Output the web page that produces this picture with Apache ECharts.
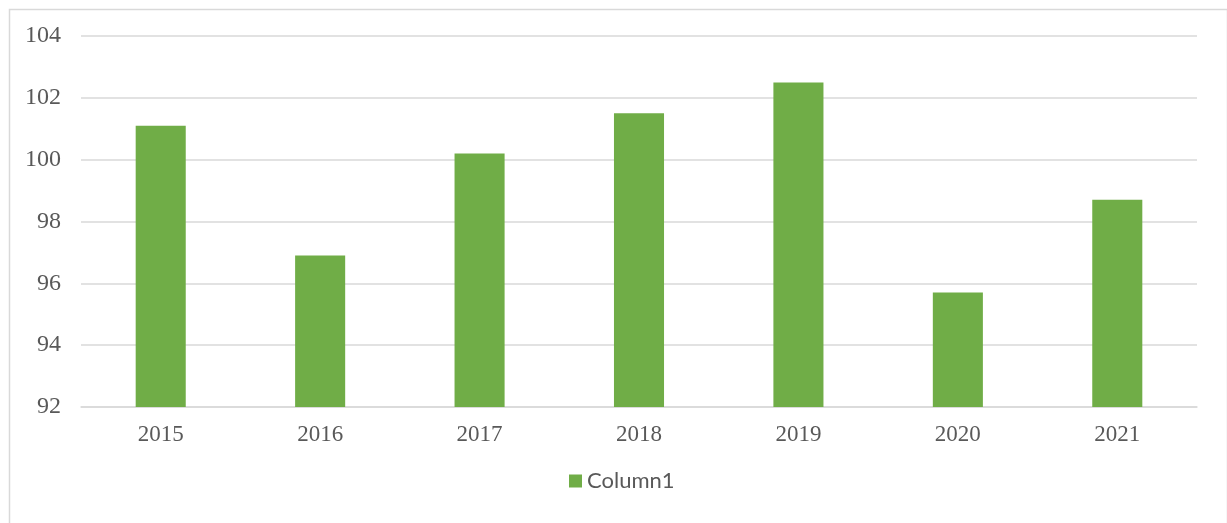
<!DOCTYPE html>
<html>
<head>
<meta charset="utf-8">
<script src="https://cdn.jsdelivr.net/npm/echarts@6/dist/echarts.min.js"></script>
<style>
  html, body { margin: 0; padding: 0; background: #ffffff; }
  #chart { width: 1227px; height: 523px; }
</style>
</head>
<body>
<div id="chart"></div>
<script>
// Yearly values shown as columns
const years = ['2015', '2016', '2017', '2018', '2019', '2020', '2021'];
const column1 = [101.1, 96.9, 100.2, 101.5, 102.5, 95.7, 98.7];
const seriesName = 'Column1';

const axisTextColor = '#595959';
const gridColor = '#d9d9d9';
const barColor = '#70ad47';

const chart = echarts.init(document.getElementById('chart'), null, { renderer: 'canvas' });

chart.setOption({
  animation: false,
  backgroundColor: '#ffffff',
  graphic: [{
    type: 'rect',
    left: 7,
    top: 7,
    shape: { width: 1218, height: 530 },
    style: { fill: 'none', stroke: gridColor, lineWidth: 1.5 },
    silent: true
  }],
  grid: { left: 81, right: 30, top: 36, bottom: 116 },
  legend: {
    data: [seriesName],
    bottom: 26,
    left: 564,
    icon: 'rect',
    itemWidth: 13,
    itemHeight: 13,
    itemGap: 6,
    textStyle: { fontFamily: 'Lato', fontSize: 22, color: axisTextColor, padding: [0, 0, 0, 0] }
  },
  xAxis: {
    type: 'category',
    data: years,
    axisLine: { show: true, lineStyle: { color: gridColor, width: 1.5 } },
    axisTick: { show: false },
    axisLabel: {
      margin: 16,
      fontFamily: 'Liberation Serif',
      fontSize: 23,
      color: axisTextColor
    }
  },
  yAxis: {
    type: 'value',
    min: 92,
    max: 104,
    interval: 2,
    axisLine: { show: false },
    axisTick: { show: false },
    splitLine: { lineStyle: { color: gridColor, width: 1.5 } },
    axisLabel: {
      margin: 20,
      fontFamily: 'Liberation Serif',
      fontSize: 24,
      color: axisTextColor
    }
  },
  series: [{
    name: seriesName,
    type: 'bar',
    data: column1,
    barWidth: '31.4%',
    itemStyle: { color: barColor }
  }]
});
</script>
</body>
</html>
